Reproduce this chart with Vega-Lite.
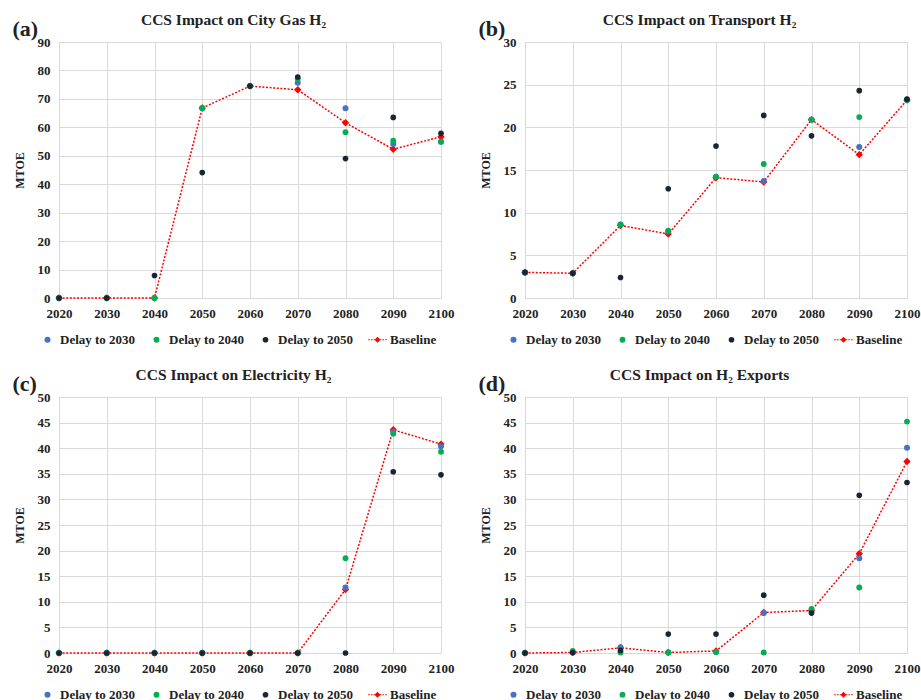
{
"$schema":"https://vega.github.io/schema/vega-lite/v6.json",
"background":"white",
"padding":{"left":12,"top":12,"right":3,"bottom":3},
"config":{
 "font":"Liberation Serif",
 "view":{"stroke":"#D9D9D9"},
 "axis":{"labelFont":"Liberation Serif","labelFontWeight":"bold","labelFontSize":13,"labelColor":"#222","titleFont":"Liberation Serif","titleFontWeight":"bold","titleFontSize":12,"titleColor":"#222","gridColor":"#D9D9D9","domainColor":"#D9D9D9","ticks":false,"labelPadding":9,"labelFlush":false},
 "legend":{"orient":"none","legendX":-18,"legendY":291,"direction":"horizontal","labelFont":"Liberation Serif","labelFontWeight":"bold","labelFontSize":13,"labelColor":"#222","columnPadding":14,"labelOffset":6},
 "title":{"font":"Liberation Serif","fontSize":15.5,"fontWeight":"bold","color":"#222"},
 "concat":{"spacing":23}
},
"datasets":{
"a":[
{"year":2020,"series":"Baseline","value":0},{"year":2030,"series":"Baseline","value":0},{"year":2040,"series":"Baseline","value":0},{"year":2050,"series":"Baseline","value":66.8},{"year":2060,"series":"Baseline","value":74.5},{"year":2070,"series":"Baseline","value":73.2},{"year":2080,"series":"Baseline","value":61.6},{"year":2090,"series":"Baseline","value":52.3},{"year":2100,"series":"Baseline","value":56.7},
{"year":2020,"series":"Delay to 2030","value":0},{"year":2030,"series":"Delay to 2030","value":0},{"year":2040,"series":"Delay to 2030","value":0},{"year":2050,"series":"Delay to 2030","value":66.7},{"year":2060,"series":"Delay to 2030","value":74.5},{"year":2070,"series":"Delay to 2030","value":75.7},{"year":2080,"series":"Delay to 2030","value":66.7},{"year":2090,"series":"Delay to 2030","value":54.1},{"year":2100,"series":"Delay to 2030","value":54.9},
{"year":2020,"series":"Delay to 2040","value":0},{"year":2030,"series":"Delay to 2040","value":0},{"year":2040,"series":"Delay to 2040","value":0},{"year":2050,"series":"Delay to 2040","value":66.8},{"year":2060,"series":"Delay to 2040","value":74.5},{"year":2070,"series":"Delay to 2040","value":77.1},{"year":2080,"series":"Delay to 2040","value":58.3},{"year":2090,"series":"Delay to 2040","value":55.3},{"year":2100,"series":"Delay to 2040","value":54.9},
{"year":2020,"series":"Delay to 2050","value":0},{"year":2030,"series":"Delay to 2050","value":0},{"year":2040,"series":"Delay to 2050","value":7.9},{"year":2050,"series":"Delay to 2050","value":44.1},{"year":2060,"series":"Delay to 2050","value":74.5},{"year":2070,"series":"Delay to 2050","value":77.7},{"year":2080,"series":"Delay to 2050","value":49.0},{"year":2090,"series":"Delay to 2050","value":63.5},{"year":2100,"series":"Delay to 2050","value":57.9}
],
"b":[
{"year":2020,"series":"Baseline","value":3.0},{"year":2030,"series":"Baseline","value":2.9},{"year":2040,"series":"Baseline","value":8.5},{"year":2050,"series":"Baseline","value":7.5},{"year":2060,"series":"Baseline","value":14.1},{"year":2070,"series":"Baseline","value":13.6},{"year":2080,"series":"Baseline","value":20.9},{"year":2090,"series":"Baseline","value":16.8},{"year":2100,"series":"Baseline","value":23.2},
{"year":2020,"series":"Delay to 2030","value":3.0},{"year":2030,"series":"Delay to 2030","value":2.9},{"year":2040,"series":"Delay to 2030","value":8.6},{"year":2050,"series":"Delay to 2030","value":7.8},{"year":2060,"series":"Delay to 2030","value":14.2},{"year":2070,"series":"Delay to 2030","value":13.7},{"year":2080,"series":"Delay to 2030","value":20.9},{"year":2090,"series":"Delay to 2030","value":17.7},{"year":2100,"series":"Delay to 2030","value":23.2},
{"year":2020,"series":"Delay to 2040","value":3.0},{"year":2030,"series":"Delay to 2040","value":2.9},{"year":2040,"series":"Delay to 2040","value":8.6},{"year":2050,"series":"Delay to 2040","value":7.9},{"year":2060,"series":"Delay to 2040","value":14.2},{"year":2070,"series":"Delay to 2040","value":15.7},{"year":2080,"series":"Delay to 2040","value":20.9},{"year":2090,"series":"Delay to 2040","value":21.2},{"year":2100,"series":"Delay to 2040","value":23.2},
{"year":2020,"series":"Delay to 2050","value":3.0},{"year":2030,"series":"Delay to 2050","value":2.9},{"year":2040,"series":"Delay to 2050","value":2.4},{"year":2050,"series":"Delay to 2050","value":12.8},{"year":2060,"series":"Delay to 2050","value":17.8},{"year":2070,"series":"Delay to 2050","value":21.4},{"year":2080,"series":"Delay to 2050","value":19.0},{"year":2090,"series":"Delay to 2050","value":24.3},{"year":2100,"series":"Delay to 2050","value":23.3}
],
"c":[
{"year":2020,"series":"Baseline","value":0},{"year":2030,"series":"Baseline","value":0},{"year":2040,"series":"Baseline","value":0},{"year":2050,"series":"Baseline","value":0},{"year":2060,"series":"Baseline","value":0},{"year":2070,"series":"Baseline","value":0},{"year":2080,"series":"Baseline","value":12.4},{"year":2090,"series":"Baseline","value":43.6},{"year":2100,"series":"Baseline","value":40.8},
{"year":2020,"series":"Delay to 2030","value":0},{"year":2030,"series":"Delay to 2030","value":0},{"year":2040,"series":"Delay to 2030","value":0},{"year":2050,"series":"Delay to 2030","value":0},{"year":2060,"series":"Delay to 2030","value":0},{"year":2070,"series":"Delay to 2030","value":0},{"year":2080,"series":"Delay to 2030","value":12.8},{"year":2090,"series":"Delay to 2030","value":43.2},{"year":2100,"series":"Delay to 2030","value":40.4},
{"year":2020,"series":"Delay to 2040","value":0},{"year":2030,"series":"Delay to 2040","value":0},{"year":2040,"series":"Delay to 2040","value":0},{"year":2050,"series":"Delay to 2040","value":0},{"year":2060,"series":"Delay to 2040","value":0},{"year":2070,"series":"Delay to 2040","value":0},{"year":2080,"series":"Delay to 2040","value":18.5},{"year":2090,"series":"Delay to 2040","value":42.8},{"year":2100,"series":"Delay to 2040","value":39.3},
{"year":2020,"series":"Delay to 2050","value":0},{"year":2030,"series":"Delay to 2050","value":0},{"year":2040,"series":"Delay to 2050","value":0},{"year":2050,"series":"Delay to 2050","value":0},{"year":2060,"series":"Delay to 2050","value":0},{"year":2070,"series":"Delay to 2050","value":0},{"year":2080,"series":"Delay to 2050","value":0},{"year":2090,"series":"Delay to 2050","value":35.4},{"year":2100,"series":"Delay to 2050","value":34.8}
],
"d":[
{"year":2020,"series":"Baseline","value":0},{"year":2030,"series":"Baseline","value":0.1},{"year":2040,"series":"Baseline","value":1.0},{"year":2050,"series":"Baseline","value":0.1},{"year":2060,"series":"Baseline","value":0.4},{"year":2070,"series":"Baseline","value":7.9},{"year":2080,"series":"Baseline","value":8.3},{"year":2090,"series":"Baseline","value":19.4},{"year":2100,"series":"Baseline","value":37.4},
{"year":2020,"series":"Delay to 2030","value":0},{"year":2030,"series":"Delay to 2030","value":0.1},{"year":2040,"series":"Delay to 2030","value":1.1},{"year":2050,"series":"Delay to 2030","value":0.1},{"year":2060,"series":"Delay to 2030","value":0.2},{"year":2070,"series":"Delay to 2030","value":7.8},{"year":2080,"series":"Delay to 2030","value":8.2},{"year":2090,"series":"Delay to 2030","value":18.5},{"year":2100,"series":"Delay to 2030","value":40.1},
{"year":2020,"series":"Delay to 2040","value":0},{"year":2030,"series":"Delay to 2040","value":0.4},{"year":2040,"series":"Delay to 2040","value":0.1},{"year":2050,"series":"Delay to 2040","value":0.1},{"year":2060,"series":"Delay to 2040","value":0.2},{"year":2070,"series":"Delay to 2040","value":0.1},{"year":2080,"series":"Delay to 2040","value":8.6},{"year":2090,"series":"Delay to 2040","value":12.8},{"year":2100,"series":"Delay to 2040","value":45.2},
{"year":2020,"series":"Delay to 2050","value":0},{"year":2030,"series":"Delay to 2050","value":0.1},{"year":2040,"series":"Delay to 2050","value":0.5},{"year":2050,"series":"Delay to 2050","value":3.7},{"year":2060,"series":"Delay to 2050","value":3.7},{"year":2070,"series":"Delay to 2050","value":11.3},{"year":2080,"series":"Delay to 2050","value":7.8},{"year":2090,"series":"Delay to 2050","value":30.8},{"year":2100,"series":"Delay to 2050","value":33.3}
]
},
"spacing":19,
"resolve":{"scale":{"color":"independent","shape":"independent","size":"independent"},"legend":{"color":"independent","shape":"independent","size":"independent"}},
"vconcat":[
{"hconcat":[
 {"title":{"text":"(a)","anchor":"start","fontSize":22,"offset":-29},
  "resolve":{"scale":{"color":"independent","shape":"independent","size":"independent"},"legend":{"color":"independent","shape":"independent","size":"independent"}},
  "vconcat":[
  {"title":{"text":"CCS Impact on City Gas H₂","offset":8,"frame":"bounds"},
   "data":{"name":"a"},"width":382,"height":256,
   "encoding":{"x":{"field":"year","type":"quantitative","scale":{"domain":[2020,2100],"nice":false,"zero":false},"axis":{"values":[2020,2030,2040,2050,2060,2070,2080,2090,2100],"format":"d","title":null}},
    "y":{"field":"value","type":"quantitative","scale":{"domain":[0,90],"nice":false},"axis":{"values":[0,10,20,30,40,50,60,70,80,90],"title":"MTOE","titlePadding":11}}},
   "layer":[
    {"transform":[{"filter":"datum.series==='Baseline'"}],"mark":{"type":"line","color":"#FF0000","strokeDash":[2,1.6],"strokeWidth":1.5},"encoding":{}},
    {"transform":[{"filter":"datum.series==='Baseline'"}],"mark":{"type":"point","filled":true,"opacity":1,"shape":"diamond","size":55,"color":"#FF0000"},"encoding":{}},
    {"transform":[{"filter":"datum.series!=='Baseline'"}],"mark":{"type":"point","filled":true,"opacity":1},
     "encoding":{"color":{"field":"series","type":"nominal","scale":{"domain":["Delay to 2030","Delay to 2040","Delay to 2050","Baseline"],"range":["#4472C4","#00B050","#1B2433","#FF0000"]},"legend":{"title":null}},
      "shape":{"field":"series","type":"nominal","scale":{"domain":["Delay to 2030","Delay to 2040","Delay to 2050","Baseline"],"range":["circle","circle","circle","M-1.1,0L0,-1.1L1.1,0L0,1.1ZM-3.4,-0.2H-2.8V0.2H-3.4ZM-2.4,-0.2H-1.8V0.2H-2.4ZM-1.4,-0.2H-0.9V0.2H-1.4ZM0.9,-0.2H1.4V0.2H0.9ZM1.8,-0.2H2.4V0.2H1.8ZM2.8,-0.2H3.4V0.2H2.8Z"]},"legend":{"title":null}},
      "size":{"field":"series","type":"nominal","scale":{"domain":["Delay to 2030","Delay to 2040","Delay to 2050","Baseline"],"range":[36,30,22,50]},"legend":{"title":null}}}}
   ]}
 ]},
 {"title":{"text":"(b)","anchor":"start","fontSize":22,"offset":-29},
  "resolve":{"scale":{"color":"independent","shape":"independent","size":"independent"},"legend":{"color":"independent","shape":"independent","size":"independent"}},
  "vconcat":[
  {"title":{"text":"CCS Impact on Transport H₂","offset":8,"frame":"bounds"},
   "data":{"name":"b"},"width":382,"height":256,
   "encoding":{"x":{"field":"year","type":"quantitative","scale":{"domain":[2020,2100],"nice":false,"zero":false},"axis":{"values":[2020,2030,2040,2050,2060,2070,2080,2090,2100],"format":"d","title":null}},
    "y":{"field":"value","type":"quantitative","scale":{"domain":[0,30],"nice":false},"axis":{"values":[0,5,10,15,20,25,30],"title":"MTOE","titlePadding":11}}},
   "layer":[
    {"transform":[{"filter":"datum.series==='Baseline'"}],"mark":{"type":"line","color":"#FF0000","strokeDash":[2,1.6],"strokeWidth":1.5},"encoding":{}},
    {"transform":[{"filter":"datum.series==='Baseline'"}],"mark":{"type":"point","filled":true,"opacity":1,"shape":"diamond","size":55,"color":"#FF0000"},"encoding":{}},
    {"transform":[{"filter":"datum.series!=='Baseline'"}],"mark":{"type":"point","filled":true,"opacity":1},
     "encoding":{"color":{"field":"series","type":"nominal","scale":{"domain":["Delay to 2030","Delay to 2040","Delay to 2050","Baseline"],"range":["#4472C4","#00B050","#1B2433","#FF0000"]},"legend":{"title":null}},
      "shape":{"field":"series","type":"nominal","scale":{"domain":["Delay to 2030","Delay to 2040","Delay to 2050","Baseline"],"range":["circle","circle","circle","M-1.1,0L0,-1.1L1.1,0L0,1.1ZM-3.4,-0.2H-2.8V0.2H-3.4ZM-2.4,-0.2H-1.8V0.2H-2.4ZM-1.4,-0.2H-0.9V0.2H-1.4ZM0.9,-0.2H1.4V0.2H0.9ZM1.8,-0.2H2.4V0.2H1.8ZM2.8,-0.2H3.4V0.2H2.8Z"]},"legend":{"title":null}},
      "size":{"field":"series","type":"nominal","scale":{"domain":["Delay to 2030","Delay to 2040","Delay to 2050","Baseline"],"range":[36,30,22,50]},"legend":{"title":null}}}}
   ]}
 ]}
]},
{"hconcat":[
 {"title":{"text":"(c)","anchor":"start","fontSize":22,"offset":-29},
  "resolve":{"scale":{"color":"independent","shape":"independent","size":"independent"},"legend":{"color":"independent","shape":"independent","size":"independent"}},
  "vconcat":[
  {"title":{"text":"CCS Impact on Electricity H₂","offset":8,"frame":"bounds"},
   "data":{"name":"c"},"width":382,"height":256,
   "encoding":{"x":{"field":"year","type":"quantitative","scale":{"domain":[2020,2100],"nice":false,"zero":false},"axis":{"values":[2020,2030,2040,2050,2060,2070,2080,2090,2100],"format":"d","title":null}},
    "y":{"field":"value","type":"quantitative","scale":{"domain":[0,50],"nice":false},"axis":{"values":[0,5,10,15,20,25,30,35,40,45,50],"title":"MTOE","titlePadding":11}}},
   "layer":[
    {"transform":[{"filter":"datum.series==='Baseline'"}],"mark":{"type":"line","color":"#FF0000","strokeDash":[2,1.6],"strokeWidth":1.5},"encoding":{}},
    {"transform":[{"filter":"datum.series==='Baseline'"}],"mark":{"type":"point","filled":true,"opacity":1,"shape":"diamond","size":55,"color":"#FF0000"},"encoding":{}},
    {"transform":[{"filter":"datum.series!=='Baseline'"}],"mark":{"type":"point","filled":true,"opacity":1},
     "encoding":{"color":{"field":"series","type":"nominal","scale":{"domain":["Delay to 2030","Delay to 2040","Delay to 2050","Baseline"],"range":["#4472C4","#00B050","#1B2433","#FF0000"]},"legend":{"title":null}},
      "shape":{"field":"series","type":"nominal","scale":{"domain":["Delay to 2030","Delay to 2040","Delay to 2050","Baseline"],"range":["circle","circle","circle","M-1.1,0L0,-1.1L1.1,0L0,1.1ZM-3.4,-0.2H-2.8V0.2H-3.4ZM-2.4,-0.2H-1.8V0.2H-2.4ZM-1.4,-0.2H-0.9V0.2H-1.4ZM0.9,-0.2H1.4V0.2H0.9ZM1.8,-0.2H2.4V0.2H1.8ZM2.8,-0.2H3.4V0.2H2.8Z"]},"legend":{"title":null}},
      "size":{"field":"series","type":"nominal","scale":{"domain":["Delay to 2030","Delay to 2040","Delay to 2050","Baseline"],"range":[36,30,22,50]},"legend":{"title":null}}}}
   ]}
 ]},
 {"title":{"text":"(d)","anchor":"start","fontSize":22,"offset":-29},
  "resolve":{"scale":{"color":"independent","shape":"independent","size":"independent"},"legend":{"color":"independent","shape":"independent","size":"independent"}},
  "vconcat":[
  {"title":{"text":"CCS Impact on H₂ Exports","offset":8,"frame":"bounds"},
   "data":{"name":"d"},"width":382,"height":256,
   "encoding":{"x":{"field":"year","type":"quantitative","scale":{"domain":[2020,2100],"nice":false,"zero":false},"axis":{"values":[2020,2030,2040,2050,2060,2070,2080,2090,2100],"format":"d","title":null}},
    "y":{"field":"value","type":"quantitative","scale":{"domain":[0,50],"nice":false},"axis":{"values":[0,5,10,15,20,25,30,35,40,45,50],"title":"MTOE","titlePadding":11}}},
   "layer":[
    {"transform":[{"filter":"datum.series==='Baseline'"}],"mark":{"type":"line","color":"#FF0000","strokeDash":[2,1.6],"strokeWidth":1.5},"encoding":{}},
    {"transform":[{"filter":"datum.series==='Baseline'"}],"mark":{"type":"point","filled":true,"opacity":1,"shape":"diamond","size":55,"color":"#FF0000"},"encoding":{}},
    {"transform":[{"filter":"datum.series!=='Baseline'"}],"mark":{"type":"point","filled":true,"opacity":1},
     "encoding":{"color":{"field":"series","type":"nominal","scale":{"domain":["Delay to 2030","Delay to 2040","Delay to 2050","Baseline"],"range":["#4472C4","#00B050","#1B2433","#FF0000"]},"legend":{"title":null}},
      "shape":{"field":"series","type":"nominal","scale":{"domain":["Delay to 2030","Delay to 2040","Delay to 2050","Baseline"],"range":["circle","circle","circle","M-1.1,0L0,-1.1L1.1,0L0,1.1ZM-3.4,-0.2H-2.8V0.2H-3.4ZM-2.4,-0.2H-1.8V0.2H-2.4ZM-1.4,-0.2H-0.9V0.2H-1.4ZM0.9,-0.2H1.4V0.2H0.9ZM1.8,-0.2H2.4V0.2H1.8ZM2.8,-0.2H3.4V0.2H2.8Z"]},"legend":{"title":null}},
      "size":{"field":"series","type":"nominal","scale":{"domain":["Delay to 2030","Delay to 2040","Delay to 2050","Baseline"],"range":[36,30,22,50]},"legend":{"title":null}}}}
   ]}
 ]}
]}
]
}
